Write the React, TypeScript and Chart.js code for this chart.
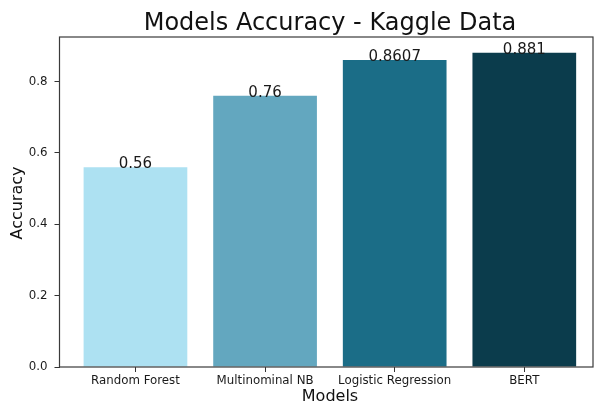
import React, { useEffect, useRef } from "react";
import { Chart, registerables } from "chart.js";

Chart.register(...registerables);

const categories = ["Random Forest", "Multinominal NB", "Logistic Regression", "BERT"];
const accuracy = [0.56, 0.76, 0.8607, 0.881];
const valueLabels = ["0.56", "0.76", "0.8607", "0.881"];
const barColors = ["#ade1f2", "#63a7bf", "#1b6d87", "#0b3c4c"];
const yTicks = [0, 0.2, 0.4, 0.6, 0.8];
const titleText = "Models Accuracy - Kaggle Data";
const xTitle = "Models";
const yTitle = "Accuracy";

const FONT = "'DejaVu Sans', sans-serif";

const textPlugin = {
  id: "customText",
  afterDatasetsDraw(chart: any) {
    const ctx = chart.ctx;
    const x = chart.scales.x;
    const y = chart.scales.y;
    ctx.save();
    ctx.fillStyle = "#1a1a1a";
    ctx.font = `15px ${FONT}`;
    ctx.textAlign = "center";
    ctx.textBaseline = "alphabetic";
    accuracy.forEach((v, i) => {
      ctx.fillText(valueLabels[i], x.getPixelForValue(i), y.getPixelForValue(v) + 1);
    });
    ctx.restore();
  },
  afterDraw(chart: any) {
    const ctx = chart.ctx;
    const a = chart.chartArea;
    ctx.save();
    ctx.strokeStyle = "#3a3a3a";
    ctx.lineWidth = 1.2;
    ctx.strokeRect(a.left, a.top, a.right - a.left, a.bottom - a.top);
    ctx.fillStyle = "#111";
    ctx.textAlign = "center";
    ctx.textBaseline = "alphabetic";
    ctx.font = `24px ${FONT}`;
    ctx.fillText(titleText, 330, 30);
    ctx.font = `16px ${FONT}`;
    ctx.textBaseline = "middle";
    ctx.fillText(xTitle, 330, 397);
    ctx.translate(18, 203);
    ctx.rotate(-Math.PI / 2);
    ctx.fillText(yTitle, 0, 0);
    ctx.restore();
  },
};

export default function App() {
  const ref = useRef<HTMLCanvasElement>(null);
  useEffect(() => {
    if (!ref.current) return;
    const chart = new Chart(ref.current, {
      type: "bar",
      data: {
        datasets: [
          {
            data: accuracy.map((v, i) => ({ x: i, y: v })),
            backgroundColor: barColors,
            borderWidth: 0,
            barPercentage: 0.8,
            categoryPercentage: 1,
          },
        ],
      },
      options: {
        responsive: false,
        animation: false,
        devicePixelRatio: 1,
        layout: { padding: { left: 0, top: 37, right: 2, bottom: 0 } },
        plugins: { legend: { display: false }, tooltip: { enabled: false }, title: { display: false } },
        scales: {
          x: {
            type: "linear",
            offset: false,
            min: -0.586,
            max: 3.53,
            afterBuildTicks: (s: any) => {
              s.ticks = categories.map((_, i) => ({ value: i }));
            },
            afterFit: (s: any) => {
              s.height = 38;
            },
            border: { display: false },
            grid: { offset: false, drawOnChartArea: false, drawTicks: true, tickLength: 5, color: "#333", tickWidth: 1 },
            ticks: {
              color: "#1a1a1a",
              padding: 2,
              maxRotation: 0,
              autoSkip: false,
              font: { family: FONT, size: 11.8 },
              callback: (v: any) => categories[v] ?? "",
            },
          },
          y: {
            type: "linear",
            min: 0,
            max: 0.925,
            afterBuildTicks: (s: any) => {
              s.ticks = yTicks.map((v) => ({ value: v }));
            },
            afterFit: (s: any) => {
              s.width = 59.5;
            },
            border: { display: false },
            grid: { drawOnChartArea: false, drawTicks: true, tickLength: 5, color: "#333", tickWidth: 1 },
            ticks: {
              color: "#1a1a1a",
              padding: 7,
              font: { family: FONT, size: 11.8 },
              callback: (v: any) => Number(v).toFixed(1),
            },
          },
        },
      },
      plugins: [textPlugin],
    });
    return () => chart.destroy();
  }, []);
  return (
    <div style={{ position: "fixed", left: 0, top: 0, width: 595, height: 405, background: "#fff" }}>
      <canvas ref={ref} width={595} height={405} style={{ display: "block" }} />
    </div>
  );
}
